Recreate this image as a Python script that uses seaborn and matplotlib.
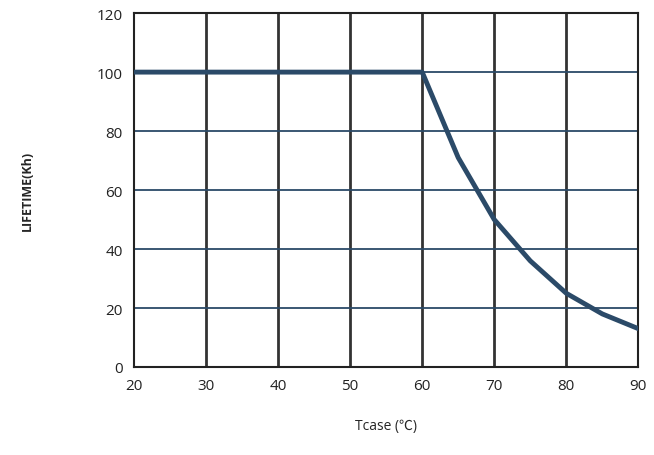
import matplotlib
matplotlib.use("Agg")
import matplotlib.pyplot as plt
import seaborn as sns
import pandas as pd

tcase = [20, 30, 40, 50, 60, 65, 70, 75, 80, 85, 90]
lifetime = [100, 100, 100, 100, 100, 71, 50, 36, 25, 18, 13]

sns.set_style("white")
plt.rcParams['font.family'] = ['Open Sans', 'DejaVu Sans', 'Noto Sans CJK SC']

fig = plt.figure(figsize=(6.54, 4.56), dpi=100)
ax = fig.add_axes([0.205, 0.193, 0.771, 0.776])

df = pd.DataFrame({"t": tcase, "life": lifetime})
sns.lineplot(data=df, x="t", y="life", ax=ax, color="#2b4a68", linewidth=3.5, zorder=3)

ax.set_xlim(20, 90)
ax.set_ylim(0, 120)
ax.set_xticks(range(20, 91, 10))
ax.set_yticks(range(0, 121, 20))
for x in range(30, 90, 10):
    ax.axvline(x, color="#333333", linewidth=2, zorder=1)
for y in range(20, 120, 20):
    ax.axhline(y, color="#2b4a68", linewidth=1.3, zorder=1)
for s in ax.spines.values():
    s.set_color("#222222")
    s.set_linewidth(1.5)
ax.tick_params(labelsize=11, colors="#222222", length=0, pad=8)
ax.set_xlabel("Tcase (℃)", fontsize=10, labelpad=18, family=['Open Sans', 'Noto Sans CJK SC'])
ax.set_ylabel("LIFETIME(Kh)", fontsize=9, fontweight="bold", labelpad=45)

fig.savefig("out.png", dpi=100)
